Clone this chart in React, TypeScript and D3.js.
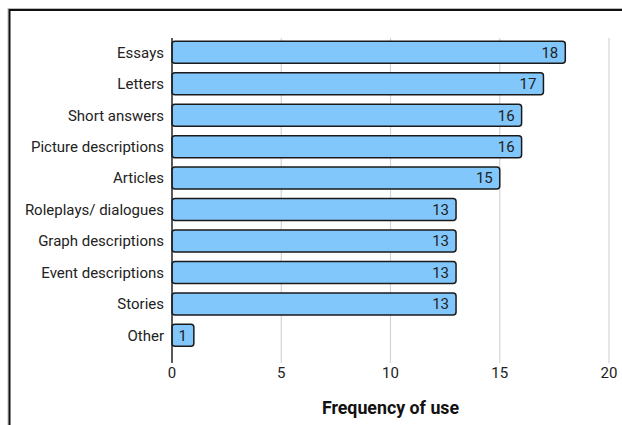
import React from "react";
import * as d3 from "d3";

const categories = [
  "Essays",
  "Letters",
  "Short answers",
  "Picture descriptions",
  "Articles",
  "Roleplays/ dialogues",
  "Graph descriptions",
  "Event descriptions",
  "Stories",
  "Other",
];
const values = [18, 17, 16, 16, 15, 13, 13, 13, 13, 1];
const xTicks = [0, 5, 10, 15, 20];
const xTitle = "Frequency of use";

const W = 622;
const H = 425;

export default function App() {
  const x = d3.scaleLinear().domain([0, 20]).range([172, 609]);
  const step = 31.45;
  const y = d3
    .scaleBand<string>()
    .domain(categories)
    .range([52.3 - step / 2, 52.3 - step / 2 + step * categories.length])
    .paddingInner(0.3)
    .paddingOuter(0.15);
  const bw = y.bandwidth();
  const font = "Roboto, 'Noto Sans', sans-serif";
  return (
    <svg
      width={W}
      height={H}
      style={{ position: "absolute", left: 0, top: 0, background: "#fff" }}
      fontFamily={font}
    >
      <rect x={0} y={0} width={W} height={H} fill="#fff" />
      <line x1={8} x2={W} y1={8.5} y2={8.5} stroke="#bbb" strokeWidth={1} />
      <line x1={8} x2={8} y1={8} y2={H} stroke="#bbb" strokeWidth={1} />
      <line x1={9} x2={W} y1={10} y2={10} stroke="#111" strokeWidth={2} />
      <line x1={9.5} x2={9.5} y1={9} y2={H} stroke="#111" strokeWidth={2} />
      {xTicks.map((t) => (
        <g key={t}>
          {t > 0 && (
            <line x1={x(t)} x2={x(t)} y1={38} y2={363} stroke="#d4d4d4" strokeWidth={1.2} />
          )}
          <text x={x(t)} y={377.5} textAnchor="middle" fontSize={15} fill="#222">
            {t}
          </text>
        </g>
      ))}
      {categories.map((c, i) => {
        const yy = y(c)!;
        const v = values[i];
        return (
          <g key={c}>
            <rect
              x={x(0)}
              y={yy}
              width={x(v) - x(0)}
              height={bw}
              rx={3}
              ry={3}
              fill="#82c7fb"
              stroke="#1a1a1a"
              strokeWidth={1.5}
            />
            <text
              x={x(v) - 7}
              y={yy + bw / 2 + 5.3}
              textAnchor="end"
              fontSize={15}
              fill="#222"
            >
              {v}
            </text>
            <text x={164} y={yy + bw / 2 + 5.3} textAnchor="end" fontSize={15} fill="#222">
              {c}
            </text>
          </g>
        );
      })}
      <line x1={x(0)} x2={x(0)} y1={38} y2={363} stroke="#222" strokeWidth={1.5} />
      <text x={(x(0) + x(20)) / 2} y={414} textAnchor="middle" fontSize={17.8} fontWeight="bold" fill="#111">
        {xTitle}
      </text>
    </svg>
  );
}
